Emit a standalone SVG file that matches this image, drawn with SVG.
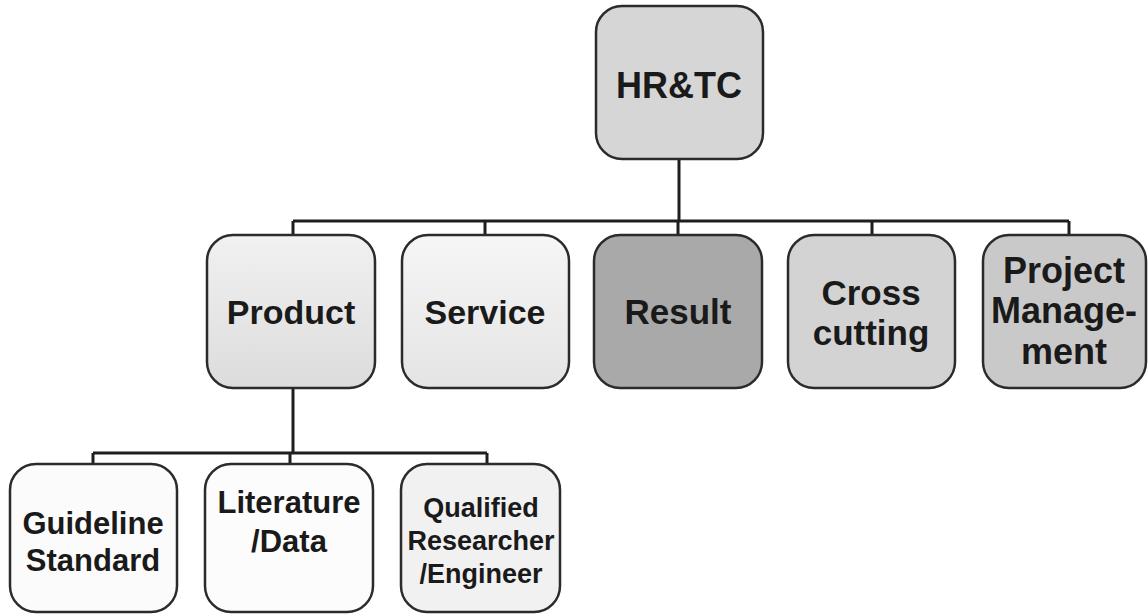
<svg xmlns="http://www.w3.org/2000/svg" width="1148" height="616" viewBox="0 0 1148 616">
<style>
.box{stroke:#2b2b2b;stroke-width:2.5}
.lbl{font-family:"Liberation Sans",Arial,sans-serif;font-weight:bold;fill:#1a1a1a;text-anchor:middle}
.conn{stroke:#1e1e1e;stroke-width:3;fill:none}
</style>
<defs>
<linearGradient id="gProd" x1="0" y1="0" x2="0" y2="1"><stop offset="0" stop-color="#f1f1f1"/><stop offset="1" stop-color="#dcdcdc"/></linearGradient>
<linearGradient id="gServ" x1="0" y1="0" x2="0" y2="1"><stop offset="0" stop-color="#f6f6f6"/><stop offset="1" stop-color="#e4e4e4"/></linearGradient>
<filter id="grain" x="0" y="0" width="100%" height="100%">
<feTurbulence type="fractalNoise" baseFrequency="0.9" numOctaves="2" seed="3" result="n"/>
<feColorMatrix in="n" type="matrix" values="0 0 0 0 0  0 0 0 0 0  0 0 0 0 0  0 0 0 -2.2 1.25" result="a"/>
<feComposite in="a" in2="SourceGraphic" operator="in" result="dots"/>
<feMerge><feMergeNode in="SourceGraphic"/><feMergeNode in="dots"/></feMerge>
</filter>
</defs>
<g id="connectors">
<path class="conn" d="M679 159V221M293 221H1069M293 221V235M485 221V235M678 221V235M872 221V235M1069 221V235"/>
<path class="conn" d="M293 388V453M93 453H487M93 453V464M290 453V464M487 453V464"/>
</g>
<g id="hrtc"><rect class="box" x="596" y="6" width="167" height="153" rx="26" fill="#d6d6d6"/><text class="lbl" x="679" y="98" font-size="36">HR&amp;TC</text></g>
<g id="product"><rect class="box" x="207" y="235" width="168" height="153" rx="26" fill="url(#gProd)"/><text class="lbl" x="291" y="324" font-size="34">Product</text></g>
<g id="service"><rect class="box" x="402" y="235" width="167" height="153" rx="26" fill="url(#gServ)"/><text class="lbl" x="485" y="324" font-size="34">Service</text></g>
<g id="result"><rect class="box" x="594" y="235" width="168" height="153" rx="26" fill="#a9a9a9"/><text class="lbl" x="678" y="324" font-size="35">Result</text></g>
<g id="crosscutting"><rect class="box" x="788" y="235" width="167" height="153" rx="26" fill="#d3d3d3"/><text class="lbl" font-size="35"><tspan x="871" y="305">Cross</tspan><tspan x="871" y="345">cutting</tspan></text></g>
<g id="projectmanagement"><rect class="box" x="983" y="235" width="163" height="153" rx="26" fill="#c9c9c9"/><text class="lbl" font-size="36"><tspan x="1064" y="283">Project</tspan><tspan x="1064" y="323">Manage-</tspan><tspan x="1064" y="364">ment</tspan></text></g>
<g id="guideline"><rect class="box" x="10" y="464" width="167" height="148" rx="26" fill="#fbfbfb"/><text class="lbl" font-size="31"><tspan x="93" y="534">Guideline</tspan><tspan x="93" y="571">Standard</tspan></text></g>
<g id="literature"><rect class="box" x="205" y="464" width="168" height="148" rx="26" fill="#fcfcfc"/><text class="lbl" font-size="31"><tspan x="289" y="513">Literature</tspan><tspan x="289" y="552">/Data</tspan></text></g>
<g id="qualified"><rect class="box" x="401" y="464" width="159" height="148" rx="26" fill="#f1f1f1"/><text class="lbl" font-size="27"><tspan x="481" y="517">Qualified</tspan><tspan x="481" y="550">Researcher</tspan><tspan x="481" y="583">/Engineer</tspan></text></g>
</svg>
